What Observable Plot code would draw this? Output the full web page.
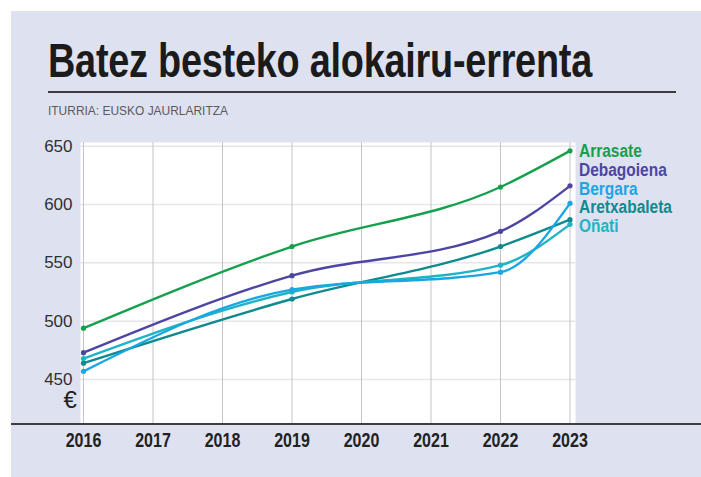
<!DOCTYPE html>
<html>
<head>
<meta charset="utf-8">
<script src="https://cdn.jsdelivr.net/npm/d3@7"></script>
<script src="https://cdn.jsdelivr.net/npm/@observablehq/plot@0.6"></script>
<style>
  html, body { margin: 0; padding: 0; background: #ffffff; }
  body { width: 701px; height: 477px; position: relative; overflow: hidden; font-family: "Liberation Sans", Arial, sans-serif; }
  #panel { position: absolute; left: 11px; top: 11px; width: 690px; height: 466px; background: #dee1f0; }
  #title { position: absolute; left: 48px; top: 37px; font-size: 48px; font-weight: bold; color: #1b1b1b; line-height: 1; white-space: nowrap; transform-origin: 0 0; letter-spacing: -0.3px; }
  #rule { position: absolute; left: 48px; top: 91px; width: 628px; height: 2px; background: #3a3a3f; }
  #source { position: absolute; left: 48px; top: 104px; font-size: 13.5px; color: #5a5a5e; white-space: nowrap; transform-origin: 0 0; line-height: 1.1; }
  #chart { position: absolute; left: 11px; top: 130px; }
  #axisline { position: absolute; left: 11px; top: 423px; width: 690px; height: 2px; background: #3d3d42; }
  #legend { position: absolute; left: 579px; top: 142px; font-size: 18px; font-weight: bold; line-height: 18.8px; white-space: nowrap; transform-origin: 0 0; transform: scaleX(0.86); }
</style>
</head>
<body>
<div id="panel"></div>
<div id="title">Batez besteko alokairu-errenta</div>
<div id="rule"></div>
<div id="source">ITURRIA: EUSKO JAURLARITZA</div>
<div id="chart"></div>
<div id="axisline"></div>
<div id="legend"></div>
<script>
// ---- data ----
const tickYears = [2016, 2017, 2018, 2019, 2020, 2021, 2022, 2023];
const yTicks = [450, 500, 550, 600, 650];
const dataYears = [2016, 2019, 2022, 2023];
const seriesNames = ["Arrasate", "Debagoiena", "Bergara", "Aretxabaleta", "Oñati"];
const seriesColors = ["#14a04c", "#4c46a2", "#1aa6e2", "#0f8a8e", "#1fb4c4"];
const arrasate     = [494, 564, 615, 646];
const debagoiena   = [473, 539, 577, 616];
const bergara      = [457, 527, 542, 601];
const aretxabaleta = [464, 519, 564, 587];
const onati        = [468, 525, 548, 583];

const seriesValues = [arrasate, debagoiena, bergara, aretxabaleta, onati];
const rows = [];
seriesNames.forEach((name, i) => {
  dataYears.forEach((yr, j) => rows.push({ series: name, year: yr, value: seriesValues[i][j] }));
});
// draw order: back to front
const drawOrder = ["Aretxabaleta", "Oñati", "Bergara", "Debagoiena", "Arrasate"];
rows.sort((a, b) => drawOrder.indexOf(a.series) - drawOrder.indexOf(b.series));

const font = '"Liberation Sans", Arial, sans-serif';

const chart = Plot.plot({
  width: 690,
  height: 347,
  marginLeft: 69,
  marginRight: 126,
  marginTop: 12,
  marginBottom: 53,
  style: { background: "transparent", fontFamily: font, color: "#2a2a2e", overflow: "visible" },
  x: { domain: [2016, 2023], insetLeft: 3, insetRight: 5.5 },
  y: { domain: [450, 650], insetTop: 3.7, insetBottom: 45 },
  color: { domain: seriesNames, range: seriesColors },
  marks: [
    Plot.frame({ fill: "white", stroke: null }),
    Plot.ruleY(yTicks, { stroke: "#e6e6ea", strokeWidth: 1.5 }),
    Plot.ruleX(tickYears, { stroke: "#c4c4c8", strokeWidth: 1 }),
    Plot.line(rows, { x: "year", y: "value", z: "series", stroke: "series", strokeWidth: 2.4, curve: "monotone-x" }),
    Plot.dot(rows, { x: "year", y: "value", fill: "series", r: 2.6 }),
    Plot.axisY({ ticks: yTicks, tickSize: 0, tickPadding: 8, fontSize: 17, label: null, fill: "#2f2f33" }),
    Plot.axisX({ ticks: tickYears, tickFormat: d => String(d), tickSize: 0, tickPadding: 8, fontSize: 20, fontWeight: "bold", label: null, fill: "#222" }),
    Plot.text(["€"], { frameAnchor: "bottom-left", dx: -17, dy: -17, fontSize: 24, fill: "#222" })
  ]
});
document.getElementById("chart").appendChild(chart);

// condense the bold year labels horizontally (reference uses a condensed face)
chart.querySelectorAll('g[aria-label="x-axis tick label"] text').forEach(t => {
  const tr = t.getAttribute("transform");
  if (tr) t.setAttribute("transform", tr + " scale(0.8,1)");
});

const legend = document.getElementById("legend");
seriesNames.forEach((name, i) => {
  const d = document.createElement("div");
  d.textContent = name;
  d.style.color = seriesColors[i];
  legend.appendChild(d);
});

// fit title and source widths to the reference's condensed typeface
function fitWidth(id, target) {
  const el = document.getElementById(id);
  const w = el.getBoundingClientRect().width;
  el.style.transform = `scaleX(${target / w})`;
}
fitWidth("title", 544);
fitWidth("source", 180);
</script>
</body>
</html>
